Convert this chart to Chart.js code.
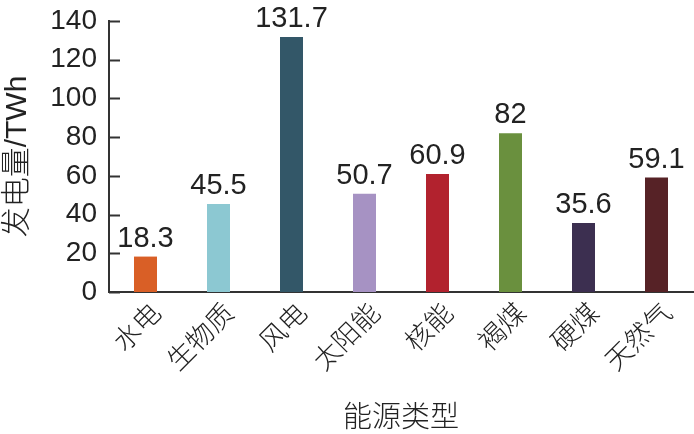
<!DOCTYPE html>
<html>
<head>
<meta charset="utf-8">
<script src="https://cdn.jsdelivr.net/npm/chart.js@4/dist/chart.umd.min.js"></script>
<style>
  html, body { margin: 0; padding: 0; background: #fff; }
  #wrap { width: 694px; height: 434px; }
</style>
</head>
<body>
<div id="wrap"><canvas id="energyChart" width="694" height="434"></canvas></div>
<script>
// 数据
const categories = ['水电', '生物质', '风电', '太阳能', '核能', '褐煤', '硬煤', '天然气'];
const generation = [18.3, 45.5, 131.7, 50.7, 60.9, 82, 35.6, 59.1];
const barColors = ['#D95F26', '#8CC8D2', '#335768', '#A692C3', '#B2222E', '#6A903E', '#3C2F50', '#562226'];
const yTicks = [0, 20, 40, 60, 80, 100, 120, 140];

const numFont = '"Liberation Sans", Arial, sans-serif';
const cjkFont = '"Noto Sans CJK SC", sans-serif';
const mixFont = '"Liberation Sans", "Noto Sans CJK SC", sans-serif';
const axisColor = '#333';

// 柱顶数值 + 向内刻度
const extras = {
    id: 'extras',
    afterDatasetsDraw(chart) {
        const ctx = chart.ctx;
        const meta = chart.getDatasetMeta(0);
        ctx.save();
        ctx.fillStyle = '#222';
        ctx.font = '29px ' + numFont;
        ctx.textAlign = 'center';
        ctx.textBaseline = 'alphabetic';
        meta.data.forEach((bar, i) => {
            ctx.fillText(String(generation[i]), bar.x, bar.y - 10);
        });

        const y = chart.scales.y;
        ctx.strokeStyle = axisColor;
        ctx.lineWidth = 2;
        y.ticks.forEach((t, i) => {
            const py = Math.round(y.getPixelForTick(i)) + 0.5;
            ctx.beginPath();
            ctx.moveTo(y.right, py);
            ctx.lineTo(y.right + 11, py);
            ctx.stroke();
        });
        ctx.restore();
    }
};

new Chart(document.getElementById('energyChart'), {
    type: 'bar',
    data: {
        labels: categories,
        datasets: [{
            data: generation,
            backgroundColor: barColors,
            barPercentage: 0.315,
            categoryPercentage: 1
        }]
    },
    options: {
        responsive: false,
        animation: false,
        layout: { padding: { top: 21, right: 1, left: 0, bottom: 0 } },
        plugins: { legend: { display: false }, tooltip: { enabled: false } },
        scales: {
            x: {
                grid: { display: false, drawTicks: false },
                border: { color: axisColor, width: 2 },
                ticks: {
                    color: '#222',
                    font: { family: cjkFont, size: 27, weight: 300 },
                    minRotation: 45,
                    maxRotation: 45,
                    padding: 4,
                    labelOffset: 10,
                    autoSkip: false
                },
                title: {
                    display: true,
                    text: '能源类型',
                    color: '#222',
                    font: { family: cjkFont, size: 29, weight: 300 },
                    padding: { top: 0, bottom: 1 }
                },
                afterFit(scale) {
                    scale.height = 142;
                    scale.paddingLeft = 0;
                    scale.paddingRight = 0;
                }
            },
            y: {
                min: 0,
                max: 140,
                afterBuildTicks(scale) { scale.ticks = yTicks.map(v => ({ value: v })); },
                grid: { display: false, drawTicks: false },
                border: { color: axisColor, width: 2 },
                ticks: {
                    color: '#222',
                    font: { family: numFont, size: 28 },
                    padding: 12
                },
                title: {
                    display: true,
                    text: '发电量/TWh',
                    color: '#222',
                    font: { family: mixFont, size: 30, weight: 300 },
                    padding: 0
                },
                afterFit(scale) {
                    scale.width = 109;
                    scale.paddingTop = 0;
                    scale.paddingBottom = 0;
                }
            }
        }
    },
    plugins: [extras]
});
</script>
</body>
</html>
